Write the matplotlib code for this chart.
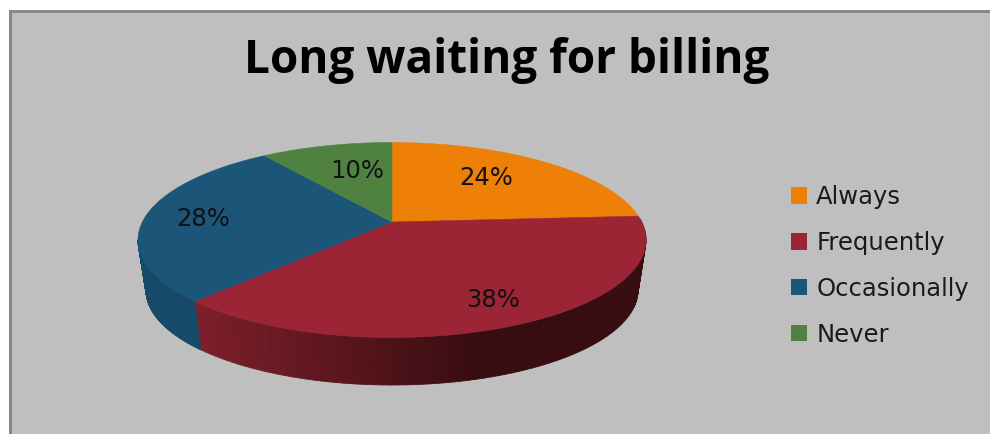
import numpy as np
import matplotlib
matplotlib.use('Agg')
import matplotlib.pyplot as plt
from matplotlib.collections import PolyCollection
from matplotlib.patches import Patch, Polygon, Rectangle

title = 'Long waiting for billing'
categories = ['Always', 'Frequently', 'Occasionally', 'Never']
values = [24, 38, 28, 10]

top_colors = ['#EE7F07', '#9C2535', '#1B5578', '#4F8241']
wall_left = {1: '#7E1F2A', 2: '#174A69'}
wall_right = {1: '#380D11', 2: '#1A5070'}

# pie ellipse in figure pixels
cx, cy, a, b = 392.0, 240.0, 254.0, 97.5
cy2, a2, b2 = 290.0, 246.0, 95.0
apex_up = 18.0
p = apex_up / b

fig = plt.figure(figsize=(9.9, 4.34), dpi=100, facecolor='white')
ax = fig.add_axes([0, 0, 1, 1])
ax.set_xlim(0, 990)
ax.set_ylim(434, 0)
ax.axis('off')

# chart area with its grey frame on the top and left
ax.add_patch(Rectangle((9, 10), 981, 424, fc='#888888', ec='none'))
ax.add_patch(Rectangle((12, 13), 978, 421, fc='#BFBFBF', ec='none'))


def disc_to_unit(theta, r=1.0):
    # tilted disc: theta runs clockwise from 12 o'clock
    u = r * np.sin(theta)
    v = r * np.cos(theta)
    w = 1 + p * v
    return np.sqrt(1 - p * p) * u / w, (v + p) / w


def top_xy(theta, r=1.0):
    x, y = disc_to_unit(theta, r)
    return cx + a * x, cy - b * y


def bottom_xy(theta):
    x, y = disc_to_unit(theta)
    return cx + a2 * x, cy2 - b2 * y


fracs = np.array(values) / sum(values)
edges = 2 * np.pi * np.concatenate([[0], np.cumsum(fracs)])

# side wall, only the part of the rim facing down
for i in [2, 1]:
    th = np.linspace(edges[i], edges[i + 1], 90)
    xt, yt = top_xy(th)
    xb, yb = bottom_xy(th)
    keep = (yt >= cy) | (xt > cx + 0.97 * a)
    th_x, th_yt, th_xb, th_yb = xt[keep], yt[keep], xb[keep], yb[keep]
    quads = []
    cols = []
    c0 = np.array(matplotlib.colors.to_rgb(wall_left[i]))
    c1 = np.array(matplotlib.colors.to_rgb(wall_right[i]))
    lo, hi = min(th_x), max(th_x)
    for j in range(len(th_x) - 1):
        quads.append([(th_x[j], th_yt[j]), (th_x[j + 1], th_yt[j + 1]),
                      (th_xb[j + 1], th_yb[j + 1]), (th_xb[j], th_yb[j])])
        t = min(1.0, (0.5 * (th_x[j] + th_x[j + 1]) - lo) / (0.62 * (hi - lo)))
        cols.append(c0 + (c1 - c0) * t)
    ax.add_collection(PolyCollection(quads, facecolors=cols, edgecolors=cols, linewidths=0.6))

# left end of the blue wall, where the rim turns behind the top face
th = np.linspace(edges[2], edges[3], 200)
xt, yt = top_xy(th)
k = np.argmin(xt)
xb, yb = bottom_xy(th)
quads = [[(xt[j], yt[j]), (xt[j + 1], yt[j + 1]), (xb[j + 1], yb[j + 1]), (xb[j], yb[j])]
         for j in range(0, k + 1)]
ax.add_collection(PolyCollection(quads, facecolors=wall_left[2], edgecolors=wall_left[2], linewidths=0.6))

# top faces
for i in range(len(values)):
    th = np.linspace(edges[i], edges[i + 1], 120)
    x, y = top_xy(th)
    x0, y0 = top_xy(0.0, 0.0)
    pts = np.column_stack([np.r_[x0, x], np.r_[y0, y]])
    ax.add_patch(Polygon(pts, closed=True, fc=top_colors[i], ec=top_colors[i], lw=0.4))

# value labels
label_pos = [(486, 178), (493, 300), (203, 219), (357, 171)]
for v, (lx, ly) in zip(values, label_pos):
    ax.text(lx, ly, f'{v}%', ha='center', va='center', fontsize=17.5,
            family='DejaVu Sans', color='#111111')

ax.text(507, 61, title, ha='center', va='center', fontsize=33, family='Open Sans',
        fontweight='bold', color='black')

handles = [Patch(fc=c, ec='none') for c in top_colors]
ax.legend(handles, categories, loc='upper left', bbox_to_anchor=(774 / 990, 1 - 168 / 434),
          frameon=False, prop={'family': 'DejaVu Sans', 'size': 17.5},
          labelspacing=0.9, handlelength=0.66, handleheight=0.66, handletextpad=0.38,
          labelcolor='#1a1a1a', borderpad=0.2)

fig.savefig('out.png', dpi=100, facecolor='white')
